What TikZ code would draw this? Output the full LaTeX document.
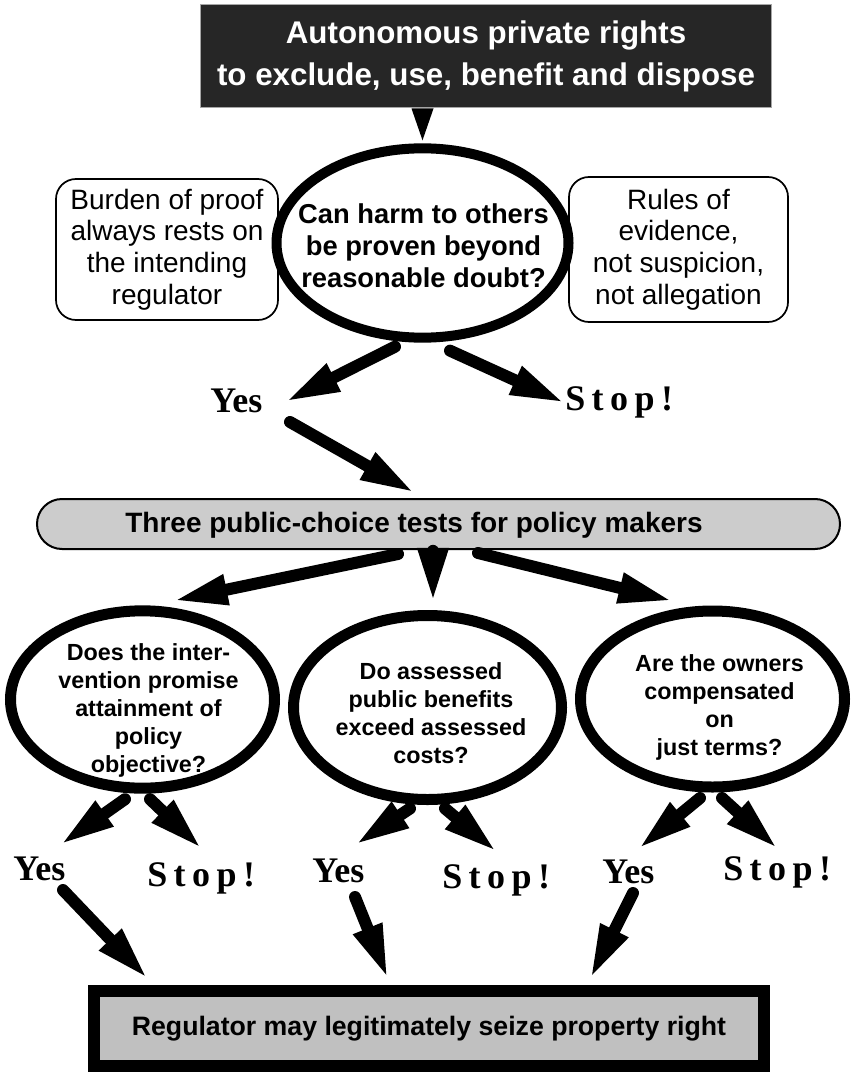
\documentclass[tikz,border=0pt]{standalone}
\usepackage{fontspec}
\setmainfont{Liberation Sans}
\newfontfamily\yesfont{Liberation Serif}
\newfontfamily\stopfont{Liberation Serif}[LetterSpace=18]
\usetikzlibrary{arrows.meta,calc,shapes.geometric}
\definecolor{topfill}{RGB}{38,38,38}
\definecolor{pillgray}{RGB}{204,204,204}
\definecolor{reggray}{RGB}{192,192,192}
\begin{document}
\begin{tikzpicture}[x=0.75pt,y=-0.75pt,
  fat/.style={line width=9pt, line cap=round, -{Triangle[length=41pt,width=21pt]}},
  bigell/.style={ellipse, draw, line width=7.5pt, fill=white, inner sep=0pt},
  smallell/.style={ellipse, draw, line width=8.25pt, fill=white, inner sep=0pt},
  qtext/.style={font=\bfseries\fontsize{17.5pt}{21pt}\selectfont, align=center, inner sep=0pt},
  side/.style={draw, line width=1.3pt, rounded corners=15pt, fill=white, align=center, inner sep=0pt, font=\fontsize{21pt}{23.8pt}\selectfont},
  ans/.style={font=\yesfont\bfseries\fontsize{27pt}{27pt}\selectfont, inner sep=0pt, anchor=base west},
  stp/.style={font=\stopfont\bfseries\fontsize{27pt}{27pt}\selectfont, inner sep=0pt, anchor=base west}]
\fill[white] (0,0) rectangle (857,1091);
\useasboundingbox (0,0) rectangle (857,1091);

% side boxes
\node[side, minimum width=166.5pt, minimum height=105.75pt] (burden) at (167,249.5)
  {Burden of proof\\always rests on\\the intending\\regulator};
\node[side, minimum width=164.25pt, minimum height=108.75pt] (rules) at (678.5,249.5)
  {Rules of\\evidence,\\not suspicion,\\not allegation};

% central question
\node[bigell, minimum width=219pt, minimum height=142pt] (ell0) at (422.5,243) {};
\node[inner sep=0pt, align=center, font=\bfseries\fontsize{20.5pt}{24pt}\selectfont] (q0) at (423.5,245.5)
  {Can harm to others\\be proven beyond\\reasonable doubt?};

% top box
\node[draw=gray!70, line width=0.75pt, fill=topfill, text=white, align=center,
  minimum width=428pt, minimum height=77.25pt, inner sep=0pt,
  font=\bfseries\fontsize{23.5pt}{31.5pt}\selectfont] (topbox) at (486,56.5)
  {Autonomous private rights\\ to exclude, use, benefit and dispose};
\coordinate (tribase) at (ell0.north |- topbox.south);
\fill ($(tribase)+(-11,0)$) -- ($(tribase)+(11,0)$) -- ($(ell0.north)+(0,-3)$) -- cycle;

% labels under central question
\node[ans] (yes1) at (210,412) {Yes};
\node[stp] (stop1) at (565,410) {Stop!};

% pill
\node[draw, line width=1.5pt, fill=pillgray, rounded corners=18.75pt,
  minimum width=602.25pt, minimum height=37.5pt, inner sep=0pt] (pill) at (438.5,524) {};
\node[inner sep=0pt, font=\bfseries\fontsize{21pt}{24pt}\selectfont] (pilltext) at (414,525)
  {Three public-choice tests for policy makers};

% three tests
\node[smallell, minimum width=198pt, minimum height=133pt] (e1) at (142.5,699.5) {};
\node[smallell, minimum width=201pt, minimum height=138pt] (e2) at (427.5,707.5) {};
\node[smallell, minimum width=198pt, minimum height=132pt] (e3) at (712.5,699) {};
\node[qtext] (t1) at (148.5,710) {Does the inter-\\vention promise\\attainment of\\policy\\objective?};
\node[qtext] (t2) at (431,713) {Do assessed\\public benefits\\exceed assessed\\costs?};
\node[qtext] (t3) at (719.5,707) {Are the owners\\compensated\\on\\just terms?};

% answers
\node[ans] (yesL) at (13,880) {Yes};
\node[stp] (stopL) at (147,886) {Stop!};
\node[ans] (yesM) at (312,882) {Yes};
\node[stp] (stopM) at (442,888) {Stop!};
\node[ans] (yesR) at (602,883) {Yes};
\node[stp] (stopR) at (723,880) {Stop!};

% regulator
\node[draw, line width=9pt, fill=reggray, minimum width=502.5pt, minimum height=56.25pt,
  inner sep=0pt, font=\bfseries\fontsize{20pt}{22pt}\selectfont] (reg) at (429,1028.5)
  {Regulator may legitimately seize property right};

% arrows
\draw[fat] ($(ell0.south)+(-27.5,4)$) -- ($(yes1.base west)+(75,-10)$);
\draw[fat] ($(ell0.south)+(27.5,8)$) -- ($(stop1.base west)+(0,-7)$);
\draw[fat] ($(yes1.base west)+(80,10)$) -- ($(pill.north)+(-23.5,-5)$);

\draw[fat] ($(pill.south)+(-40.5,4)$) -- ($(e1.north)+(30.5,-4.5)$);
\draw[fat] ($(pill.south)+(-5.5,6)$) -- ($(e2.north)+(5.5,-7.5)$);
\draw[fat] ($(pill.south)+(39.5,3)$) -- ($(e3.north)+(-39.5,-4.5)$);

\draw[fat] ($(e1.south)+(-17.5,5.5)$) -- ($(yesL.base west)+(47,-35)$);
\draw[fat] ($(e1.south)+(7.5,5.5)$) -- ($(stopL.base west)+(55,-37)$);
\draw[fat] ($(e2.south)+(-17.5,3.5)$) -- ($(yesM.base west)+(43,-37)$);
\draw[fat] ($(e2.south)+(17.5,3.5)$) -- ($(stopM.base west)+(55,-36)$);
\draw[fat] ($(e3.south)+(-12.5,5.5)$) -- ($(yesR.base west)+(36,-34)$);
\draw[fat] ($(e3.south)+(9.5,5.5)$) -- ($(stopR.base west)+(55,-31)$);

\draw[fat] ($(yesL.base west)+(50,10)$) -- ($(reg.north)+(-281,-6)$);
\draw[fat] ($(yesM.base west)+(43,15)$) -- ($(reg.north)+(-41,-6)$);
\draw[fat] ($(yesR.base west)+(31,10)$) -- ($(reg.north)+(161,-6)$);
\end{tikzpicture}
\end{document}
